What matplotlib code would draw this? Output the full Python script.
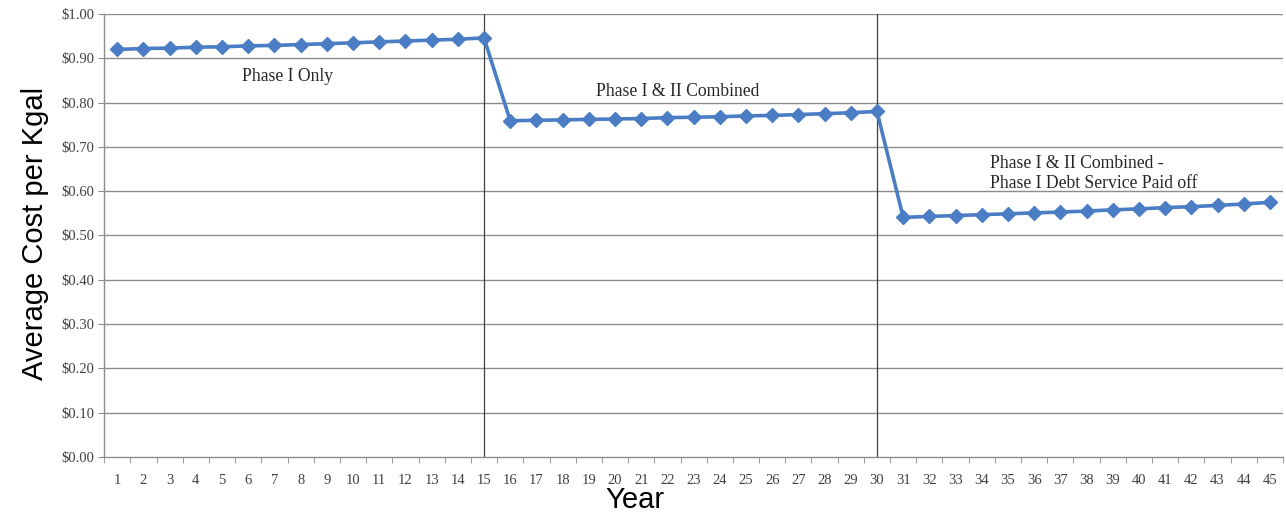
import matplotlib.pyplot as plt
from matplotlib.ticker import FixedLocator, FuncFormatter

# years 1..45
years = list(range(1, 46))

# average cost per Kgal
phase1 = [0.920, 0.922, 0.923, 0.925, 0.926, 0.928, 0.929, 0.931, 0.933, 0.935,
          0.937, 0.939, 0.941, 0.943, 0.946]
phase2 = [0.759, 0.760, 0.761, 0.762, 0.763, 0.764, 0.766, 0.767, 0.768, 0.770,
          0.771, 0.773, 0.775, 0.777, 0.780]
phase3 = [0.541, 0.543, 0.545, 0.547, 0.549, 0.551, 0.553, 0.555, 0.558, 0.560,
          0.563, 0.565, 0.568, 0.571, 0.575]
cost = phase1 + phase2 + phase3

# phase boundaries
breaks = [15, 30]

fig = plt.figure(figsize=(12.86, 5.12), dpi=100)
ax = fig.add_axes([0.081, 0.1074, 0.9167, 0.8653])

# grid
for v in [i / 10 for i in range(1, 11)]:
    ax.axhline(v, color='#8c8c8c', lw=1.0, zorder=1)
for b in breaks:
    ax.axvline(b, color='#404040', lw=0.9, zorder=1)

ax.plot(years, cost, color='#4a7dc4', lw=2.6, marker='D', markersize=7, zorder=3)

ax.set_xlim(0.5, 45.5)
ax.set_ylim(0, 1.0)
ax.set_yticks([i / 10 for i in range(0, 11)])
ax.yaxis.set_major_formatter(FuncFormatter(lambda v, p: '$%.2f' % v))
ax.set_xticks(years)
ax.xaxis.set_minor_locator(FixedLocator([y + 0.5 for y in range(0, 46)]))
ax.tick_params(axis='x', which='major', length=0, pad=12)
ax.tick_params(axis='x', which='minor', length=4, color='#8c8c8c', direction='out')
ax.tick_params(axis='y', length=4, color='#8c8c8c', pad=3)
for lab in ax.get_xticklabels() + ax.get_yticklabels():
    lab.set_family('Liberation Serif')
    lab.set_fontsize(10.5)
    lab.set_color('#404040')

for s in ['top', 'right']:
    ax.spines[s].set_visible(False)
for s in ['left', 'bottom']:
    ax.spines[s].set_color('#8c8c8c')
    ax.spines[s].set_linewidth(1.0)

txt = dict(family='Liberation Serif', fontsize=12.7, color='#262626')
ax.text(7.5, 0.86, 'Phase I Only', ha='center', va='center', **txt)
ax.text(22.4, 0.824, 'Phase I & II Combined', ha='center', va='center', **txt)
ax.text(34.3, 0.64, 'Phase I & II Combined -\nPhase I Debt Service Paid off',
        ha='left', va='center', linespacing=1.2, **txt)

ax.set_ylabel('Average Cost per Kgal', family='Liberation Sans', fontsize=21)
ax.yaxis.set_label_coords(-0.047, 0.505)
ax.set_xlabel('Year', family='Liberation Sans', fontsize=21)
ax.xaxis.set_label_coords(0.45, -0.066)

fig.savefig('out.png', dpi=100)
